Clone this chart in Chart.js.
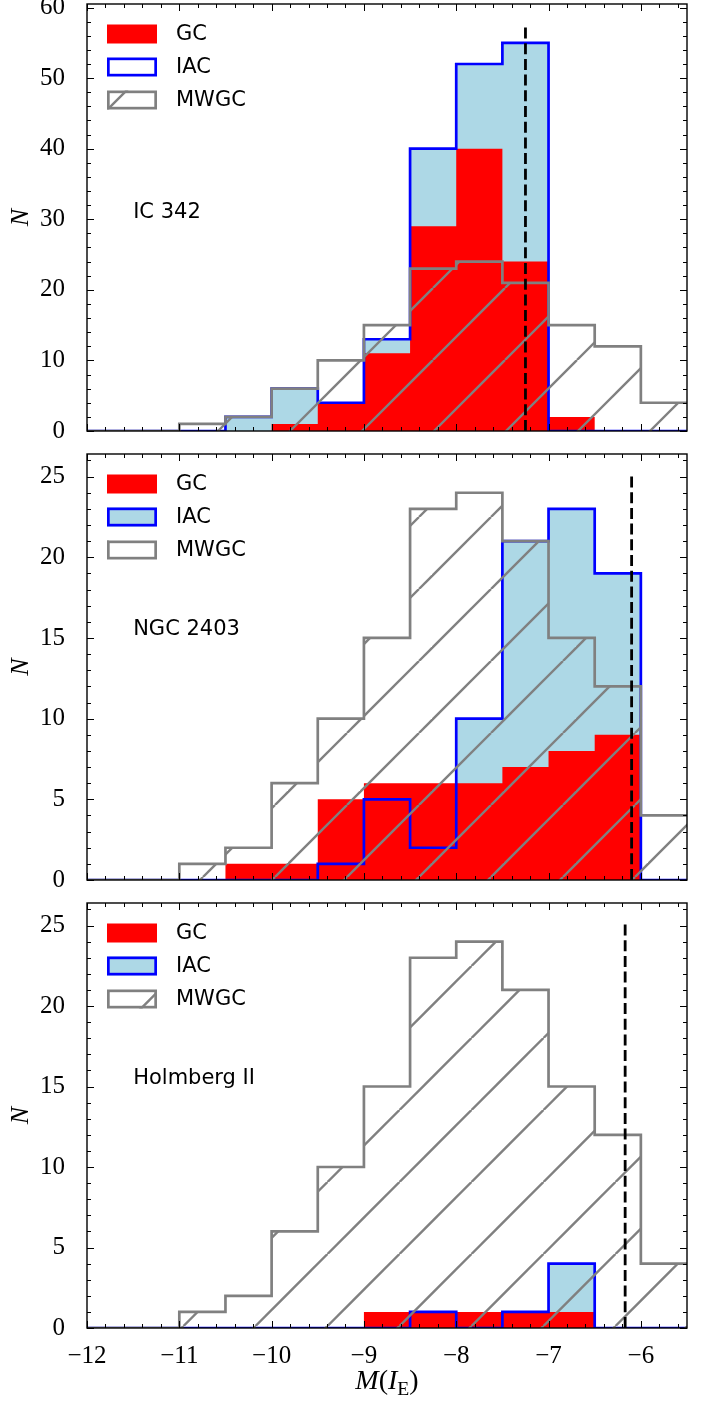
<!DOCTYPE html>
<html>
<head>
<meta charset="utf-8">
<script src="https://cdn.jsdelivr.net/npm/chart.js@4.4.1/dist/chart.umd.min.js"></script>
<style>
  body { margin: 0; background: #fff; }
  #wrap { position: relative; width: 708px; height: 1405px; overflow: hidden; }
  #wrap canvas { position: absolute; left: 0; }
  #xtitle {
    position: absolute; left: 87px; width: 600px; top: 1364px;
    text-align: center; font-family: "Liberation Serif", serif; font-size: 28px; line-height: 32px;
  }
  #xtitle sub { font-size: 0.7em; vertical-align: -0.3em; line-height: 0; }
</style>
</head>
<body>
<div id="wrap">
  <canvas id="c1" width="708" height="440" style="top:0px"></canvas>
  <canvas id="c2" width="708" height="444" style="top:445px"></canvas>
  <canvas id="c3" width="708" height="511" style="top:894px"></canvas>
  <div id="xtitle"><i>M</i>(<i>I</i><sub>E</sub>)</div>
</div>
<script>
// histogram bin edges in M(I_E), 0.5 mag wide
const binEdges = [-12, -11.5, -11, -10.5, -10, -9.5, -9, -8.5, -8, -7.5, -7, -6.5, -6, -5.5];

// Milky Way GCs, same reference in every panel
const mwgcCounts = [0, 0, 1, 2, 6, 10, 15, 23, 24, 21, 15, 12, 4];

// IC 342
const ic342Iac = [0, 0, 0, 2, 6, 4, 13, 40, 52, 55, 0, 0, 0];
const ic342Gc = [0, 0, 0, 0, 1, 4, 11, 29, 40, 24, 2, 0, 0];

// NGC 2403
const ngc2403Iac = [0, 0, 0, 0, 0, 1, 5, 2, 10, 21, 23, 19, 0];
const ngc2403Gc = [0, 0, 0, 1, 1, 5, 6, 6, 6, 7, 8, 9, 0];

// Holmberg II
const holmIac = [0, 0, 0, 0, 0, 0, 0, 1, 0, 1, 4, 0, 0];
const holmGc = [0, 0, 0, 0, 0, 0, 1, 1, 1, 1, 1, 0, 0];

// dashed vertical line per galaxy
const limitMags = [-7.25, -6.10, -6.17];

const galaxyNames = ['IC 342', 'NGC 2403', 'Holmberg II'];
const legendLabels = ['GC', 'IAC', 'MWGC'];
const xTicks = [-12, -11, -10, -9, -8, -7, -6];
const yTicksIc342 = [0, 10, 20, 30, 40, 50, 60];
const yTicksSmall = [0, 5, 10, 15, 20, 25];

const RED = '#ff0000';
const BLUE = '#0000ff';
const LIGHTBLUE = '#add8e6';
const GRAY = '#808080';
const LW = 2.7;
const TICK_FONT = { family: 'Liberation Serif', size: 25 };

const panels = [
  { id: 'c1', top: 0, iac: ic342Iac, gc: ic342Gc, yTicks: yTicksIc342, yMinor: 2,
    padTop: 4, xH: 9, showX: false, labelY: 31, iacPatch: '#ffffff', hatchPhase: 1 },
  { id: 'c2', top: 445, iac: ngc2403Iac, gc: ngc2403Gc, yTicks: yTicksSmall, yMinor: 1,
    padTop: 9, xH: 9, showX: false, labelY: 15.5, iacPatch: LIGHTBLUE, hatchPhase: 0 },
  { id: 'c3', top: 894, iac: holmIac, gc: holmGc, yTicks: yTicksSmall, yMinor: 1,
    padTop: 9, xH: 77, showX: true, labelY: 15.5, iacPatch: LIGHTBLUE, hatchPhase: -2.5 }
];

function stepPoints(counts) {
  const pts = [{ x: binEdges[0], y: 0 }];
  counts.forEach((n, i) => pts.push({ x: binEdges[i], y: n }));
  pts.push({ x: binEdges[binEdges.length - 1], y: counts[counts.length - 1] });
  return pts;
}

// "/" hatch, anchored to the page like matplotlib does
function makeHatch(ctx, top, phase) {
  const s = 72;
  const tile = document.createElement('canvas');
  tile.width = s; tile.height = s;
  const g = tile.getContext('2d');
  g.strokeStyle = GRAY;
  g.lineWidth = 2.4;
  const off = ((phase - top) % s + s) % s;
  for (let k = -2; k <= 2; k++) {
    const o = off + k * s;
    g.beginPath(); g.moveTo(o, 0); g.lineTo(o - s, s); g.stroke();
  }
  return ctx.createPattern(tile, 'repeat');
}

const minusFmt = v => (v < 0 ? '\u2212' + Math.abs(v) : String(v));

const framePlugin = {
  id: 'frame',
  afterDraw(chart) {
    const { ctx, chartArea: a, scales: { x, y } } = chart;
    const p = chart.options.plugins.frame;
    ctx.save();
    ctx.strokeStyle = '#000';
    ctx.lineWidth = 1;
    ctx.beginPath();
    for (let i = 0; ; i++) {
      const v = binEdges[0] + i * 0.2;
      if (v > binEdges[binEdges.length - 1] + 1e-6) break;
      const major = Math.abs(v - Math.round(v)) < 1e-6;
      const len = major ? 7 : 4;
      const px = Math.round(x.getPixelForValue(v)) + 0.5;
      ctx.moveTo(px, a.bottom); ctx.lineTo(px, a.bottom - len);
      ctx.moveTo(px, a.top); ctx.lineTo(px, a.top + len);
    }
    for (let v = 0; v <= y.max + 1e-6; v += p.yMinor) {
      const major = p.yTicks.includes(v);
      const len = major ? 7 : 4;
      const py = Math.round(y.getPixelForValue(v)) + 0.5;
      ctx.moveTo(a.left, py); ctx.lineTo(a.left + len, py);
      ctx.moveTo(a.right, py); ctx.lineTo(a.right - len, py);
    }
    ctx.stroke();
    ctx.lineWidth = 1.4;
    ctx.strokeRect(a.left, a.top, a.right - a.left, a.bottom - a.top);
    ctx.restore();
  }
};

const notesPlugin = {
  id: 'notes',
  afterDatasetsDraw(chart) {
    const { ctx, chartArea: a, scales: { x, y } } = chart;
    const p = chart.options.plugins.notes;
    ctx.save();
    ctx.font = '21px "DejaVu Sans"';
    ctx.fillStyle = '#000';
    ctx.textBaseline = 'middle';
    ctx.textAlign = 'left';
    ctx.fillText(p.name, x.getPixelForValue(-11.5), y.getPixelForValue(p.labelY));

    const lx = a.left + 20, w = 50, h = 19;
    legendLabels.forEach((lab, i) => {
      const cy = a.top + 30 + 33 * i;
      const ty = cy - h / 2;
      if (i === 0) {
        ctx.fillStyle = RED;
        ctx.fillRect(lx, ty, w, h);
      } else {
        ctx.fillStyle = i === 1 ? p.iacPatch : p.hatch;
        ctx.fillRect(lx, ty, w, h);
        ctx.strokeStyle = i === 1 ? BLUE : GRAY;
        ctx.lineWidth = LW;
        ctx.strokeRect(lx + LW / 2, ty + LW / 2, w - LW, h - LW);
      }
      ctx.fillStyle = '#000';
      ctx.fillText(lab, a.left + 89, cy + 1);
    });
    ctx.restore();
  }
};

panels.forEach((p, idx) => {
  const canvas = document.getElementById(p.id);
  const ctx = canvas.getContext('2d');
  const hatch = makeHatch(ctx, p.top, p.hatchPhase);
  const yMax = 1.1 * Math.max(...p.iac, ...p.gc, ...mwgcCounts);

  const line = (extra) => Object.assign({
    stepped: 'before', pointRadius: 0, borderJoinStyle: 'miter', borderCapStyle: 'butt',
    clip: 0, tension: 0
  }, extra);

  new Chart(ctx, {
    type: 'line',
    data: {
      datasets: [
        line({ label: 'limit', order: 0, stepped: false, fill: false,
          data: [{ x: limitMags[idx], y: 0 }, { x: limitMags[idx], y: 0.95 * yMax }],
          borderColor: '#000', borderWidth: 2.8, borderDash: [11, 4.7] }),
        line({ label: 'MWGC', order: 1, data: stepPoints(mwgcCounts), fill: 'origin',
          backgroundColor: hatch, borderColor: GRAY, borderWidth: LW }),
        line({ label: 'IAC', order: 2, data: stepPoints(p.iac), fill: false,
          borderColor: BLUE, borderWidth: LW }),
        line({ label: 'GC', order: 3, data: stepPoints(p.gc), fill: 'origin',
          backgroundColor: RED, borderColor: 'rgba(0,0,0,0)', borderWidth: 0 }),
        line({ label: 'IAC fill', order: 4, data: stepPoints(p.iac), fill: 'origin',
          backgroundColor: LIGHTBLUE, borderColor: 'rgba(0,0,0,0)', borderWidth: 0 })
      ]
    },
    options: {
      responsive: false,
      animation: false,
      devicePixelRatio: 1,
      layout: { padding: { top: p.padTop, right: 21, left: 0, bottom: 0 } },
      plugins: {
        legend: { display: false },
        tooltip: { enabled: false },
        frame: { yTicks: p.yTicks, yMinor: p.yMinor },
        notes: { name: galaxyNames[idx], labelY: p.labelY, iacPatch: p.iacPatch, hatch: hatch }
      },
      scales: {
        x: {
          type: 'linear',
          min: binEdges[0],
          max: binEdges[binEdges.length - 1],
          grid: { display: false },
          border: { display: false },
          afterBuildTicks: s => { s.ticks = xTicks.map(v => ({ value: v })); },
          afterFit: s => { s.height = p.xH; s.paddingLeft = 0; s.paddingRight = 0; },
          ticks: {
            display: p.showX,
            padding: 5,
            color: '#000',
            font: TICK_FONT,
            callback: minusFmt
          }
        },
        y: {
          type: 'linear',
          min: 0,
          max: yMax,
          grid: { display: false },
          border: { display: false },
          afterBuildTicks: s => { s.ticks = p.yTicks.map(v => ({ value: v })); },
          afterFit: s => { s.width = 87; s.paddingTop = 0; s.paddingBottom = 0; },
          ticks: {
            padding: 14,
            color: '#000',
            font: TICK_FONT,
            callback: minusFmt
          },
          title: {
            display: true,
            text: 'N',
            color: '#000',
            padding: { top: 6, bottom: 0 },
            font: { family: 'Liberation Serif', style: 'italic', size: 26 }
          }
        }
      }
    },
    plugins: [notesPlugin, framePlugin]
  });
});
</script>
</body>
</html>
